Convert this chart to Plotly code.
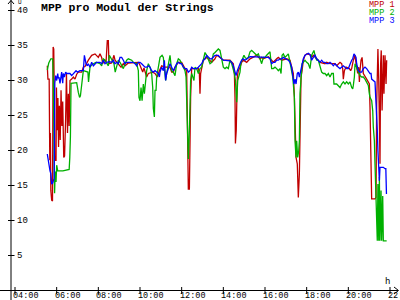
import plotly.graph_objects as go

# ---------------- data (time in decimal hours, value in V) ----------------
RED_T = [5.55, 5.58, 5.64, 5.67, 5.70, 5.72, 5.76, 5.80, 5.83, 5.86, 5.88, 5.91, 5.97, 5.99, 6.02, 6.06, 6.09, 6.13,
         6.17, 6.21, 6.25, 6.29, 6.34, 6.38, 6.43, 6.47, 6.52, 6.56, 6.60, 6.64, 6.72, 6.80, 6.88, 6.96, 7.04, 7.20,
         7.28, 7.36, 7.52, 7.60, 7.68, 7.84, 8.00, 8.08, 8.16, 8.21, 8.29, 8.37, 8.40, 8.43, 8.48, 8.51, 8.64, 8.75,
         8.80, 8.96, 9.09, 9.20, 9.28, 9.44, 9.68, 9.92, 9.97, 10.03, 10.13, 10.19, 10.32, 10.40, 10.61, 10.72, 10.83,
         10.93, 11.04, 11.20, 11.44, 11.52, 11.60, 11.68, 11.84, 12.00, 12.08, 12.16, 12.24, 12.27, 12.32, 12.37, 12.40,
         12.43, 12.48, 12.64, 12.80, 12.85, 12.88, 12.91, 12.96, 13.04, 13.20, 13.36, 13.44, 13.60, 13.68, 13.84, 14.00,
         14.32, 14.48, 14.53, 14.56, 14.58, 14.62, 14.67, 14.72, 14.80, 14.88, 14.96, 15.12, 15.28, 15.44, 15.60, 15.76,
         15.84, 15.92, 16.08, 16.16, 16.32, 16.40, 16.56, 16.64, 16.80, 17.04, 17.20, 17.28, 17.36, 17.41, 17.44, 17.49,
         17.55, 17.60, 17.65, 17.68, 17.73, 17.78, 17.84, 17.92, 18.00, 18.16, 18.24, 18.32, 18.48, 18.64, 18.88, 18.96,
         19.12, 19.36, 19.44, 19.60, 19.68, 19.73, 19.76, 19.81, 19.89, 20.05, 20.11, 20.16, 20.24, 20.32, 20.37, 20.42,
         20.45, 20.50, 20.53, 20.56, 20.61, 20.66, 20.69, 20.72, 20.88, 21.01, 21.04, 21.09, 21.12, 21.28, 21.33, 21.36,
         21.39, 21.42, 21.46, 21.49, 21.52, 21.55, 21.58, 21.62, 21.65, 21.68, 21.71, 21.76, 21.81, 21.84]
RED_V = [32.1, 30.2, 30.2, 18.6, 22.5, 14.3, 12.9, 12.8, 34.8, 34.5, 29.6, 18.6, 18.6, 29.0, 22.9, 27.5, 20.5, 26.4,
         21.5, 28.6, 23.5, 27.0, 19.0, 19.2, 24.5, 31.0, 22.5, 28.1, 23.5, 30.0, 30.2, 30.5, 30.2, 30.9, 31.2, 31.2,
         31.9, 32.0, 32.9, 33.3, 33.6, 33.8, 33.3, 33.8, 33.3, 32.4, 33.0, 32.6, 34.3, 35.7, 35.7, 32.4, 32.5, 33.6,
         32.9, 32.4, 31.9, 32.4, 32.1, 32.5, 32.6, 32.6, 32.4, 31.9, 31.2, 31.8, 30.5, 31.0, 31.2, 31.0, 30.5,
         31.4, 32.1, 31.9, 31.9, 31.2, 31.2, 31.9, 32.6, 32.6, 32.1, 31.7, 31.4, 21.4, 14.5, 14.5, 22.9,
         27.6, 31.7, 31.7, 31.7, 31.0, 28.1, 31.0, 31.9, 32.9, 33.3, 32.9, 32.6, 33.1, 33.6, 33.3, 32.9,
         32.9, 32.4, 31.0, 27.6, 21.0, 22.9, 30.5, 31.4, 31.9, 32.6, 32.9, 32.6, 33.1, 33.4, 33.6, 33.1,
         33.3, 33.1, 33.3, 33.4, 32.9, 32.6, 33.1, 33.3, 32.9, 33.1, 32.9, 31.9, 31.0, 27.6, 22.9, 19.0,
         18.1, 13.3, 16.7, 24.8, 30.5, 31.4, 32.9, 33.6, 33.8, 33.7, 33.3, 33.6, 33.1, 32.6, 32.4, 32.6,
         32.4, 32.4, 32.1, 32.6, 32.4, 31.7, 30.2, 31.4, 31.9, 31.7, 31.4, 31.7, 32.9, 33.6, 32.4, 31.7,
         31.0, 31.9, 29.8, 31.4, 32.9, 33.3, 31.9, 31.0, 30.2, 29.5, 26.2, 17.1, 13.1, 13.1, 13.3, 26.7,
         33.3, 34.5, 30.0, 22.9, 18.1, 32.4, 34.3, 25.7, 31.0, 33.6, 28.1, 33.6, 29.5, 32.9]

GREEN_T = [5.55, 5.62, 5.72, 5.81, 5.84, 5.88, 5.90, 5.93, 5.97, 6.00, 6.05, 6.30, 6.50, 6.60, 6.63, 6.66, 6.69, 6.96,
           7.04, 7.10, 7.14, 7.20, 7.28, 7.50, 7.53, 7.60, 7.70, 7.90, 8.08, 8.16, 8.24, 8.32, 8.40, 8.48, 8.53, 8.59,
           8.69, 8.75, 8.81, 8.88, 8.96, 9.04, 9.12, 9.20, 9.28, 9.36, 9.44, 9.52, 9.60, 9.68, 9.84, 9.92, 9.95, 10.00,
           10.05, 10.10, 10.16, 10.21, 10.27, 10.32, 10.40, 10.48, 10.56, 10.61, 10.64, 10.69, 10.72, 10.77, 10.80,
           10.85, 10.91, 10.96, 11.06, 11.12, 11.17, 11.23, 11.28, 11.36, 11.44, 11.52, 11.60, 11.68, 11.76, 11.84,
           11.92, 12.00, 12.08, 12.16, 12.21, 12.27, 12.32, 12.37, 12.40, 12.43, 12.48, 12.53, 12.59, 12.64, 12.72,
           12.80, 12.88, 12.96, 13.04, 13.12, 13.20, 13.28, 13.36, 13.44, 13.52, 13.60, 13.68, 13.76, 13.84, 13.92,
           14.00, 14.08, 14.16, 14.24, 14.32, 14.40, 14.48, 14.53, 14.58, 14.61, 14.64, 14.69, 14.74, 14.80, 14.85,
           14.93, 14.99, 15.04, 15.12, 15.20, 15.28, 15.36, 15.44, 15.52, 15.60, 15.68, 15.76, 15.84, 15.92, 16.00,
           16.08, 16.16, 16.24, 16.29, 16.32, 16.40, 16.48, 16.56, 16.64, 16.72, 16.77, 16.82, 16.88, 16.96, 17.04,
           17.12, 17.20, 17.28, 17.33, 17.36, 17.41, 17.44, 17.49, 17.52, 17.57, 17.62, 17.65, 17.68, 17.73, 17.78,
           17.84, 17.92, 18.00, 18.08, 18.16, 18.24, 18.32, 18.35, 18.40, 18.48, 18.56, 18.64, 18.72, 18.80, 18.88,
           18.96, 19.04, 19.12, 19.20, 19.28, 19.31, 19.44, 19.52, 19.60, 19.68, 19.76, 19.84, 19.92, 20.00, 20.08,
           20.16, 20.21, 20.24, 20.29, 20.32, 20.40, 20.48, 20.56, 20.64, 20.72, 20.80, 20.88, 20.96, 21.01, 21.04,
           21.12, 21.17, 21.20, 21.25, 21.28, 21.33, 21.36, 21.39, 21.42, 21.46, 21.49, 21.52, 21.57, 21.60, 21.65,
           21.68, 21.84]
GREEN_V = [31.5, 32.5, 33.1, 33.1, 29.6, 13.9, 13.9, 17.0, 15.5, 17.9, 17.1, 17.1, 17.3, 17.3, 19.0, 22.0, 29.6, 29.7,
           28.3, 27.6, 27.8, 29.6, 31.4, 31.2, 29.8, 31.9, 32.3, 32.6, 32.4, 32.1, 33.1, 32.9, 32.4, 32.1, 33.6, 33.3,
           32.6, 32.4, 31.2, 31.9, 32.9, 32.6, 32.1, 31.7, 32.4, 32.9, 33.1, 33.0, 32.9, 32.6, 32.4, 31.4, 27.6, 27.1,
           29.0, 27.1, 29.5, 28.1, 29.5, 31.4, 32.4, 31.9, 31.0, 29.0, 26.0, 24.8, 28.6, 28.6, 30.5,
           31.2, 32.4, 33.3, 33.6, 33.3, 31.4, 30.0, 31.0, 32.4, 33.6, 31.4, 31.2, 30.7, 32.4, 33.1,
           32.9, 32.4, 31.9, 31.4, 30.5, 21.4, 18.8, 22.9, 27.1, 30.0, 31.0, 30.5, 30.0, 31.9, 31.7,
           31.0, 31.7, 31.9, 32.9, 34.0, 33.6, 32.9, 32.4, 32.6, 33.8, 34.0, 34.3, 34.5, 34.3, 33.3,
           31.9, 31.7, 31.9, 31.7, 32.9, 32.4, 31.7, 31.0, 30.0, 27.6, 26.9, 30.0, 30.5, 31.2, 32.6,
           33.3, 33.6, 33.3, 33.1, 33.3, 34.1, 34.3, 34.1, 33.8, 33.6, 33.8, 32.9, 32.4, 33.3, 33.3,
           33.6, 33.8, 34.1, 32.6, 31.7, 31.7, 31.9, 31.7, 31.4, 31.7, 31.0, 33.6, 33.8, 33.3, 33.6,
           33.8, 32.6, 31.4, 30.5, 29.5, 27.6, 21.4, 19.0, 21.4, 19.0, 20.0, 21.4, 28.1, 30.5, 32.4,
           32.6, 32.9, 32.6, 32.4, 31.7, 33.6, 34.1, 34.3, 33.6, 32.9, 32.9, 31.9, 31.2, 31.0, 31.0,
           30.7, 31.0, 30.5, 31.0, 31.0, 29.5, 29.5, 29.3, 29.0, 29.5, 29.8, 29.5, 29.8, 29.5, 29.8,
           29.0, 28.8, 29.3, 30.5, 32.4, 31.9, 31.2, 30.7, 30.5, 30.5, 30.2, 29.8, 29.3, 28.1, 27.6,
           27.1, 25.7, 23.3, 21.4, 18.1, 13.3, 7.1, 7.1, 15.2, 7.1, 16.2, 7.1, 14.3, 7.1, 13.5,
           7.1, 7.1]

BLUE_T = [5.55, 5.58, 5.63, 5.68, 5.72, 5.76, 5.80, 5.84, 5.88, 5.91, 5.95, 6.00, 6.05, 6.08, 6.11, 6.16, 6.24, 6.29,
          6.32, 6.37, 6.43, 6.48, 6.56, 6.64, 6.72, 6.80, 6.88, 6.93, 7.00, 7.12, 7.20, 7.28, 7.33, 7.41, 7.47, 7.52,
          7.60, 7.68, 7.76, 7.84, 7.92, 8.00, 8.08, 8.16, 8.24, 8.32, 8.40, 8.53, 8.64, 8.72, 8.80, 8.88, 8.96, 9.04,
          9.12, 9.20, 9.28, 9.36, 9.68, 9.76, 9.84, 9.92, 10.00, 10.08, 10.16, 10.24, 10.32, 10.40, 10.48, 10.56,
          10.64, 10.72, 10.80, 10.88, 10.93, 10.96, 11.04, 11.12, 11.17, 11.23, 11.28, 11.36, 11.44, 11.52, 11.60,
          11.68, 11.76, 11.84, 11.92, 12.00, 12.08, 12.16, 12.24, 12.32, 12.40, 12.48, 12.56, 12.64, 12.72, 12.80,
          12.88, 12.96, 13.04, 13.12, 13.20, 13.28, 13.36, 13.44, 13.52, 13.60, 13.68, 13.76, 13.84, 13.92, 14.00,
          14.32, 14.40, 14.48, 14.56, 14.61, 14.67, 14.72, 14.80, 14.88, 14.96, 15.04, 15.12, 15.20, 15.28, 16.08,
          16.16, 16.24, 16.32, 16.40, 16.48, 16.56, 16.64, 16.72, 16.80, 16.88, 16.96, 17.04, 17.12, 17.20, 17.28,
          17.33, 17.39, 17.44, 17.49, 17.55, 17.60, 17.65, 17.71, 17.76, 17.84, 17.92, 18.00, 18.08, 18.16, 18.24,
          18.32, 18.40, 18.48, 18.56, 18.64, 18.72, 18.80, 18.88, 18.96, 19.04, 19.12, 19.20, 19.28, 19.36, 19.44,
          19.52, 19.60, 19.68, 19.76, 19.84, 19.92, 20.00, 20.08, 20.16, 20.21, 20.27, 20.32, 20.37, 20.40, 20.48,
          20.56, 20.64, 20.72, 20.80, 20.88, 20.96, 21.01, 21.04, 21.09, 21.12, 21.20, 21.28, 21.33, 21.36, 21.39,
          21.42, 21.46, 21.49, 21.52, 21.60, 21.68, 21.76, 21.80, 21.83]
BLUE_V = [19.5, 18.8, 17.5, 17.1, 16.7, 15.2, 15.3, 15.7, 16.0, 29.6, 30.7, 30.0, 31.0, 30.3, 30.5, 29.6, 31.2, 29.6,
          31.0, 30.5, 31.2, 31.0, 31.0, 31.0, 30.7, 31.0, 31.2, 31.4, 31.2, 31.4, 31.4, 31.4, 33.6, 32.4, 32.1, 32.4,
          31.9, 32.6, 32.1, 32.4, 32.6, 32.6, 32.6, 32.4, 32.9, 32.4, 32.6, 32.7, 32.6, 32.9, 32.4, 32.6, 32.4, 33.3,
          33.3, 32.9, 32.4, 32.6, 32.6, 32.4, 32.1, 32.6, 32.6, 32.4, 32.1, 31.9, 31.9, 32.1, 31.9, 31.4,
          31.2, 31.4, 31.2, 31.0, 30.5, 31.2, 31.9, 31.4, 32.9, 30.0, 31.0, 31.9, 32.4, 31.9, 31.4,
          31.9, 32.4, 32.6, 32.4, 32.4, 31.9, 31.7, 31.7, 31.2, 31.4, 31.9, 31.7, 31.7, 31.7, 31.9,
          32.1, 32.4, 32.9, 33.1, 33.6, 33.3, 33.1, 33.1, 33.3, 33.6, 33.6, 33.6, 33.3, 33.1, 32.9,
          32.8, 32.6, 32.1, 31.4, 30.7, 31.4, 31.9, 32.4, 32.9, 33.1, 32.9, 33.1, 33.3, 33.4, 33.3,
          33.3, 33.1, 32.4, 32.6, 32.6, 32.9, 32.9, 33.1, 33.1, 33.3, 33.1, 33.0, 32.9, 32.6, 31.9,
          30.5, 29.5, 30.2, 29.5, 31.0, 31.2, 30.5, 31.4, 32.4, 33.1, 33.6, 33.8, 33.9, 33.7, 32.9,
          33.3, 33.6, 33.1, 32.9, 32.6, 32.9, 32.6, 32.6, 32.4, 32.4, 32.6, 32.4, 32.1, 32.4, 32.1,
          31.9, 31.7, 31.9, 32.1, 31.9, 31.7, 31.7, 32.4, 32.9, 33.1, 33.8, 33.6, 33.3, 32.4, 31.4,
          31.2, 31.2, 31.7, 31.9, 31.7, 31.4, 31.2, 31.0, 31.0, 30.2, 30.0, 29.8, 26.7, 25.2, 22.9,
          20.0, 17.1, 15.7, 17.6, 17.6, 17.6, 17.4, 17.4, 13.8]

SERIES = ["MPP 1", "MPP 2", "MPP 3"]
COLORS = ["#c00000", "#00b000", "#0000ff"]

Y_TICKS = [5, 10, 15, 20, 25, 30, 35, 40]
X_TICKS = [4, 6, 8, 10, 12, 14, 16, 18, 20, 22]
X_LABELS = ["04:00", "06:00", "08:00", "10:00", "12:00", "14:00", "16:00", "18:00", "20:00", "22:00"]

# ---------------- geometry ----------------
W, H = 400, 300
X0_PX, PX_PER_H = 15.0, 375.0 / 18.0      # 04:00 at px 15, 22:00 at px 390
Y0_PX, PX_PER_V = 290.5, 7.0              # 0 V at py 290.5, 40 V at py 10.5
X_RANGE = [4 - X0_PX / PX_PER_H, 4 + (W - X0_PX) / PX_PER_H]
Y_RANGE = [-(H - Y0_PX) / PX_PER_V, Y0_PX / PX_PER_V]


def xh(px):
    return 4 + (px - X0_PX) / PX_PER_H


def yv(py):
    return (Y0_PX - py) / PX_PER_V


FONT = "Liberation Mono, DejaVu Sans Mono, monospace"

fig = go.Figure()
for name, t, v, c in zip(SERIES, [RED_T, GREEN_T, BLUE_T], [RED_V, GREEN_V, BLUE_V], COLORS):
    fig.add_trace(go.Scatter(x=t, y=v, mode="lines", name=name,
                             line=dict(color=c, width=1.3), showlegend=False))

shapes = []
line_style = dict(color="black", width=1)
# y axis
shapes.append(dict(type="line", xref="x", yref="paper", x0=xh(11), x1=xh(11), y0=0, y1=1, line=line_style))
# x axis
shapes.append(dict(type="line", xref="paper", yref="y", x0=0, x1=398 / W, y0=0, y1=0, line=line_style))
# arrow heads
shapes.append(dict(type="path", xref="x", yref="y",
                   path=f"M {xh(8)},{yv(4)} L {xh(11)},{yv(0.5)} L {xh(14)},{yv(4)}",
                   line=line_style))
shapes.append(dict(type="path", xref="x", yref="y",
                   path=f"M {xh(394)},{yv(287)} L {xh(398.5)},{yv(290.5)} L {xh(394)},{yv(294)}",
                   line=line_style))
# ticks
for v in Y_TICKS:
    shapes.append(dict(type="line", xref="x", yref="y", x0=xh(8), x1=xh(14.5), y0=v, y1=v, line=line_style))
for t in X_TICKS:
    shapes.append(dict(type="line", xref="x", yref="y", x0=t, x1=t, y0=yv(287), y1=yv(294), line=line_style))

annotations = []
for v in Y_TICKS:
    annotations.append(dict(x=xh(15), y=v, xref="x", yref="y", text=str(v), showarrow=False,
                            xanchor="left", yanchor="middle", font=dict(family=FONT, size=9, color="black")))
for t, lab in zip(X_TICKS, X_LABELS):
    annotations.append(dict(x=t - 4 / PX_PER_H, y=yv(296), xref="x", yref="y", text=lab, showarrow=False,
                            xanchor="left", yanchor="middle", font=dict(family=FONT, size=8.5, color="black")))
annotations.append(dict(x=xh(15.5), y=yv(2.5), xref="x", yref="y", text="U", showarrow=False,
                        xanchor="left", yanchor="middle", font=dict(family=FONT, size=6, color="black")))
annotations.append(dict(x=xh(387), y=yv(281.5), xref="x", yref="y", text="h", showarrow=False,
                        xanchor="center", yanchor="middle", font=dict(family=FONT, size=9, color="black")))
annotations.append(dict(x=xh(39), y=yv(7.5), xref="x", yref="y", text="<b>MPP pro Modul der Strings</b>",
                        showarrow=False, xanchor="left", yanchor="middle",
                        font=dict(family=FONT, size=11.5, color="black")))
for i, (name, c) in enumerate(zip(SERIES, COLORS)):
    annotations.append(dict(x=xh(397), y=yv(4.5 + 8 * i), xref="x", yref="y", text=name, showarrow=False,
                            xanchor="right", yanchor="middle", font=dict(family=FONT, size=8.5, color=c)))

fig.update_layout(
    width=W, height=H, margin=dict(l=0, r=0, t=0, b=0),
    paper_bgcolor="white", plot_bgcolor="white",
    xaxis=dict(range=X_RANGE, visible=False, fixedrange=True),
    yaxis=dict(range=Y_RANGE, visible=False, fixedrange=True),
    shapes=shapes, annotations=annotations, showlegend=False,
)
fig.write_html("out.html")
